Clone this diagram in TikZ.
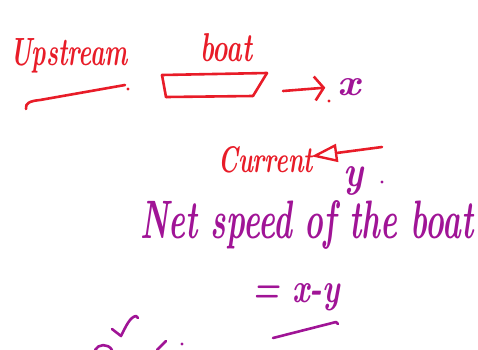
\documentclass[tikz,border=0pt]{standalone}
\usepackage{graphicx}
\usetikzlibrary{arrows.meta}
\definecolor{inkred}{RGB}{232,28,40}
\definecolor{inkpurple}{RGB}{160,20,150}
\begin{document}
\begin{tikzpicture}[x=1pt,y=-1pt,line cap=round,line join=round,
  hand/.style={inner sep=0pt,font=\fontsize{20}{20}\selectfont\bfseries\itshape},
  redtext/.style={hand,text=inkred},
  purtext/.style={hand,text=inkpurple},
  redpen/.style={draw=inkred,line width=2.6pt},
  purpen/.style={draw=inkpurple,line width=2.6pt}]
\useasboundingbox (0,0) rectangle (478,349);

% texts
\node[redtext,anchor=base west] (up) at (10,65) {\resizebox{118pt}{27pt}{Upstream}};
\node[redtext,anchor=base west] (boatlab) at (200,61) {\resizebox{52pt}{28pt}{boat}};
\node[purtext,anchor=base] (xlab) at (349,95) {\resizebox{23pt}{17pt}{x}};
\node[redtext,anchor=base west] (current) at (218,172) {\resizebox{95pt}{26pt}{Current}};
\node[purtext,anchor=base] (ylab) at (353,186) {\resizebox{20pt}{20pt}{y}};
\node[purtext,anchor=base west] (net) at (140,238) {\resizebox{333pt}{38pt}{Net speed of the boat}};
\node[purtext,anchor=base west] (eq) at (252,302) {\resizebox{88pt}{19pt}{= x-y}};

% underline of Upstream
\draw[redpen] (26,109) .. controls (25,103) and (30,101) .. (40,100) -- (125,85);
\fill[inkred] (128,89) circle (1.6pt);

% boat
\coordinate (b1) at (162,75);
\coordinate (b2) at (267,73);
\coordinate (b3) at (253,96);
\coordinate (b4) at (166,97);
\draw[redpen] (b1) -- (b2);
\draw[redpen] (b4) -- (b3);
\draw[redpen] (b1) -- (b4);
\draw[redpen] (b2) -- (b3);

% arrow to x
\coordinate (arrS) at (283,91);
\draw[redpen,-{Straight Barb[length=9pt,width=24pt,line width=2.6pt]}] (arrS) -- ([xshift=-12pt,yshift=-1pt]xlab.west);
\fill[inkred] (329,101) circle (1.6pt);

% current arrow
\coordinate (curS) at (382,147);
\draw[redpen,-{Triangle[open,length=26pt,width=18pt,line width=2.4pt]}] (curS) -- ([xshift=-2pt,yshift=3pt]current.east);
\fill[inkpurple] (382,182) circle (1.6pt);

% underline of x-y
\draw[purpen] (273,338) -- (336,322) -- (338,324);

% partial marks at bottom left
\draw[purpen] (112,329) -- (121,336) .. controls (126,326) and (130,317) .. (136,316) -- (138,318);
\draw[purpen] (95,350) .. controls (98,344) and (108,343) .. (112,350);
\draw[purpen] (157,350) -- (166,341);
\fill[inkpurple] (182,344) circle (1.6pt);
\end{tikzpicture}
\end{document}
